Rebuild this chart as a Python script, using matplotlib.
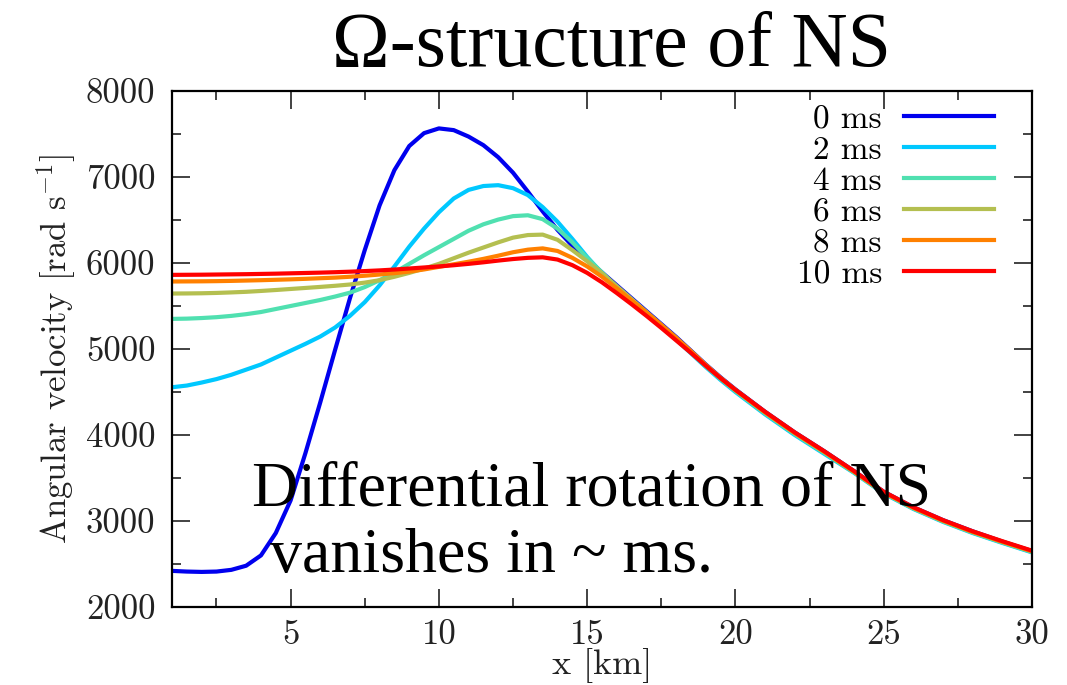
import matplotlib
matplotlib.use("Agg")
import matplotlib.pyplot as plt
from matplotlib.ticker import MultipleLocator

# radius grid [km]
x_km = [1, 1.5, 2, 2.5, 3, 3.5, 4, 4.5, 5, 5.5, 6, 6.5, 7, 7.5, 8, 8.5, 9, 9.5,
        10, 10.5, 11, 11.5, 12, 12.5, 13, 13.5, 14, 14.5, 15, 15.5, 16, 16.5,
        17, 17.5, 18, 18.5, 19, 19.5, 20, 21, 22, 23, 24, 25, 26, 27, 28, 29, 30]

# angular velocity [rad/s] at each time
omega_0ms = [2420, 2412, 2408, 2412, 2432, 2480, 2600, 2860, 3240, 3790, 4380, 4990,
             5590, 6150, 6670, 7080, 7360, 7510, 7565, 7545, 7470, 7370, 7230, 7050,
             6830, 6600, 6385, 6200, 6040, 5890, 5740, 5590, 5440, 5290, 5140, 4980,
             4820, 4670, 4530, 4270, 4030, 3810, 3580, 3340, 3160, 3010, 2880, 2760, 2650]
omega_2ms = [4555, 4575, 4610, 4650, 4700, 4760, 4820, 4900, 4980, 5060, 5145, 5250,
             5385, 5545, 5740, 5960, 6190, 6400, 6590, 6750, 6850, 6895, 6905, 6870,
             6790, 6650, 6480, 6280, 6070, 5880, 5710, 5560, 5410, 5260, 5110, 4950,
             4790, 4640, 4500, 4240, 4000, 3780, 3560, 3320, 3140, 2990, 2860, 2745, 2635]
omega_4ms = [5350, 5353, 5360, 5370, 5385, 5405, 5430, 5465, 5500, 5535, 5570, 5610,
             5655, 5720, 5800, 5890, 5990, 6090, 6185, 6280, 6375, 6450, 6505, 6545,
             6555, 6510, 6400, 6240, 6060, 5890, 5720, 5570, 5420, 5270, 5120, 4960,
             4800, 4650, 4510, 4250, 4010, 3790, 3565, 3325, 3145, 2995, 2865, 2750, 2640]
omega_6ms = [5645, 5646, 5648, 5652, 5658, 5665, 5675, 5686, 5698, 5710, 5722, 5735,
             5750, 5772, 5800, 5840, 5885, 5935, 5990, 6055, 6120, 6180, 6240, 6295,
             6325, 6330, 6270, 6150, 6020, 5880, 5730, 5580, 5430, 5280, 5130, 4970,
             4810, 4660, 4520, 4260, 4020, 3800, 3570, 3330, 3150, 3000, 2870, 2755, 2645]
omega_8ms = [5785, 5786, 5787, 5789, 5792, 5796, 5800, 5805, 5810, 5816, 5823, 5830,
             5840, 5852, 5866, 5882, 5900, 5925, 5955, 5985, 6015, 6048, 6085, 6125,
             6155, 6170, 6140, 6060, 5960, 5840, 5705, 5565, 5425, 5280, 5130, 4975,
             4815, 4665, 4525, 4265, 4025, 3805, 3575, 3335, 3155, 3005, 2875, 2760, 2650]
omega_10ms = [5862, 5863, 5864, 5866, 5868, 5870, 5873, 5876, 5880, 5884, 5888, 5893,
              5899, 5906, 5914, 5924, 5936, 5948, 5960, 5974, 5990, 6008, 6028, 6046,
              6060, 6066, 6040, 5975, 5885, 5775, 5650, 5520, 5385, 5245, 5100, 4955,
              4805, 4660, 4525, 4270, 4030, 3810, 3580, 3340, 3160, 3010, 2880, 2765, 2655]

labels = ["0 ms", "2 ms", "4 ms", "6 ms", "8 ms", "10 ms"]
colors = ["#0000ee", "#00c8ff", "#50e0b0", "#b4bf50", "#ff8000", "#ff0000"]
series = [omega_0ms, omega_2ms, omega_4ms, omega_6ms, omega_8ms, omega_10ms]

plt.rcParams["font.family"] = "serif"
plt.rcParams["font.serif"] = ["cmr10"]
plt.rcParams["mathtext.fontset"] = "cm"
plt.rcParams["axes.formatter.use_mathtext"] = False

W, H = 1067, 685
fig = plt.figure(figsize=(W / 100, H / 100), dpi=100)
ax = fig.add_axes([172 / W, 1 - 607 / H, (1032 - 172) / W, (607 - 91) / H])

for y, lab, c in zip(series, labels, colors):
    ax.plot(x_km, y, color=c, lw=3.0, label=lab, solid_joinstyle="round")

ax.set_xlim(1, 30)
ax.set_ylim(2000, 8000)
ax.xaxis.set_major_locator(MultipleLocator(5))
ax.xaxis.set_minor_locator(MultipleLocator(2.5))
ax.yaxis.set_major_locator(MultipleLocator(1000))
ax.yaxis.set_minor_locator(MultipleLocator(500))
ax.tick_params(which="both", direction="in", top=True, right=True, width=1.2,
               labelsize=25, colors="#222222")
ax.tick_params(which="major", length=13)
ax.tick_params(which="minor", length=6.5)
ax.tick_params(axis="y", pad=12)
ax.tick_params(axis="x", pad=9)
for s in ax.spines.values():
    s.set_linewidth(1.6)

ax.set_xlabel("x [km]", fontsize=26, color="#222222", labelpad=-2)
ax.set_ylabel(r"Angular velocity [rad s$^{\mathregular{-1}}$]", fontsize=25,
              color="#222222", labelpad=6)

leg = ax.legend(loc="upper right", markerfirst=False, frameon=False, fontsize=24,
                handlelength=2.7, handletextpad=0.66, labelspacing=0.05,
                borderaxespad=0.2, bbox_to_anchor=(0.979, 1.012))
for ln in leg.get_lines():
    ln.set_linewidth(3.0)

fig.text(612 / W, 1 - 66 / H, "Ω-structure of NS", family="Liberation Serif",
         fontsize=56, ha="center", va="baseline")
ax.text(252 / W, 1 - 505 / H, "Differential rotation of NS", transform=fig.transFigure,
        family="Liberation Serif", fontsize=46, ha="left", va="baseline")
ax.text(270 / W, 1 - 572 / H, "vanishes in ~ ms.", transform=fig.transFigure,
        family="Liberation Serif", fontsize=46, ha="left", va="baseline")

fig.savefig("out.png", dpi=100)
